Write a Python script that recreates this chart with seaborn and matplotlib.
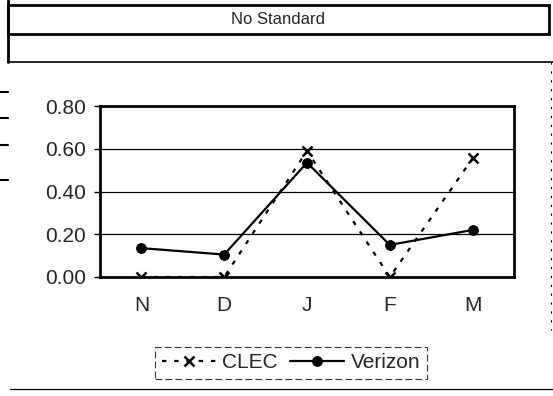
import seaborn as sns
import matplotlib.pyplot as plt
import pandas as pd
from matplotlib.lines import Line2D
from matplotlib.patches import Rectangle

# monthly values
months = ['N', 'D', 'J', 'F', 'M']
clec = [0.00, 0.00, 0.59, 0.00, 0.555]
verizon = [0.135, 0.105, 0.535, 0.15, 0.22]
y_ticks = [0.0, 0.2, 0.4, 0.6, 0.8]
header = 'No Standard'

W, H = 553, 396


def fx(px):
    return px / W


def fy(py):
    return 1 - py / H


if __name__ == '__main__':
    sns.set_theme(style="white")
    plt.rcParams['font.family'] = ['Liberation Sans', 'DejaVu Sans']

    df_clec = pd.DataFrame({'month': months, 'value': clec})
    df_vz = pd.DataFrame({'month': months, 'value': verizon})

    fig = plt.figure(figsize=(W / 100, H / 100), dpi=100)
    fig.patch.set_facecolor('white')
    ax = fig.add_axes([fx(100), fy(277), fx(514) - fx(100), fy(106) - fy(277)])

    sns.lineplot(data=df_clec, x='month', y='value', color='black', marker='x',
                 linestyle=(0, (2, 3.5)), markersize=7, markeredgewidth=1.8,
                 markeredgecolor='black', linewidth=1.6, sort=False,
                 label='CLEC', ax=ax)
    sns.lineplot(data=df_vz, x='month', y='value', color='black', marker='o',
                 linestyle='-', markersize=7, markeredgecolor='black',
                 linewidth=1.6, sort=False, label='Verizon', ax=ax)

    ax.set_xlim(-0.5, len(months) - 0.5)
    ax.set_ylim(0, 0.8)
    ax.set_yticks(y_ticks)
    ax.set_yticklabels([f'{t:.2f}' for t in y_ticks], fontsize=15)
    ax.tick_params(axis='x', labelsize=15, length=0, pad=14)
    ax.tick_params(axis='y', length=4, width=1, color='black', left=True, pad=6)
    ax.set_xlabel('')
    ax.set_ylabel('')
    ax.grid(axis='y', color='black', linewidth=0.9)
    ax.grid(axis='x', visible=False)
    for sp in ax.spines.values():
        sp.set_color('black')
        sp.set_linewidth(2)

    handles, labels = ax.get_legend_handles_labels()
    ax.get_legend().remove()
    leg = fig.legend(handles, labels, loc='center', bbox_to_anchor=(fx(291), fy(363)),
                     ncol=2, fontsize=15, frameon=True, fancybox=False,
                     handlelength=2.6, handletextpad=0.3, columnspacing=0.6,
                     borderpad=0.3)
    leg.get_frame().set_edgecolor('black')
    leg.get_frame().set_linewidth(0.8)
    leg.get_frame().set_linestyle((0, (6, 3)))

    # surrounding table borders from the scanned page
    fig.add_artist(Rectangle((fx(8), fy(34)), fx(549) - fx(8), fy(5) - fy(34),
                             fill=False, edgecolor='black', linewidth=2))
    fig.text(fx(278), fy(19), header, ha='center', va='center', fontsize=12)
    fig.add_artist(Line2D([fx(8), fx(553)], [fy(62), fy(62)], color='black', linewidth=1.2))
    fig.add_artist(Line2D([fx(8), fx(8)], [fy(0), fy(62)], color='black', linewidth=2))
    fig.add_artist(Line2D([fx(551), fx(551)], [fy(62), fy(330)], color='black',
                          linewidth=0.8, linestyle=(0, (2, 6))))
    fig.add_artist(Line2D([fx(10), fx(553)], [fy(389), fy(389)], color='black', linewidth=0.9))
    for py in [92, 118, 145, 180]:
        fig.add_artist(Line2D([fx(0), fx(8)], [fy(py), fy(py)], color='black', linewidth=1.5))

    fig.savefig('out.png', dpi=100)
